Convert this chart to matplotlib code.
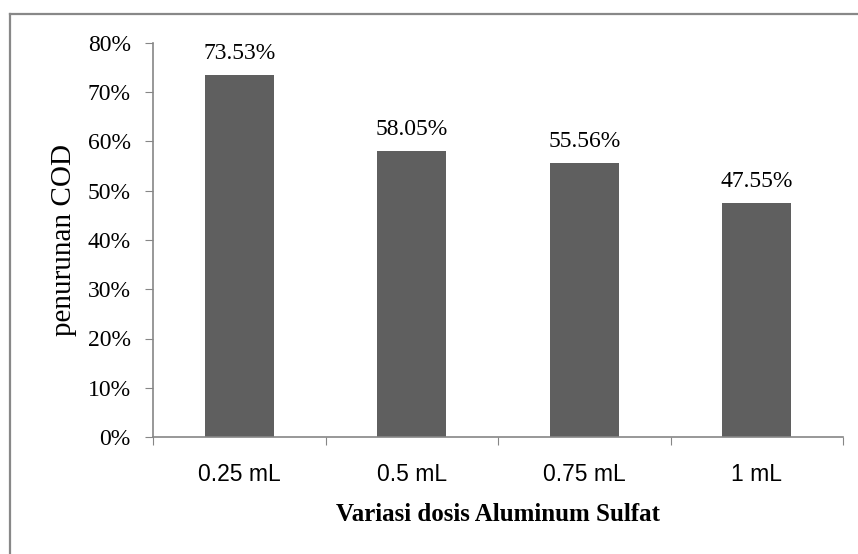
import matplotlib.pyplot as plt
from matplotlib.lines import Line2D
from matplotlib.ticker import PercentFormatter, FixedLocator, NullFormatter

doses = ['0.25 mL', '0.5 mL', '0.75 mL', '1 mL']
cod_removal = [73.53, 58.05, 55.56, 47.55]

fig = plt.figure(figsize=(8.58, 5.54), dpi=100)
ax = fig.add_axes([153 / 858, 1 - 437 / 554, 690 / 858, 394 / 554])

x = range(len(doses))
ax.bar(x, cod_removal, width=0.4, color='#5f5f5f', zorder=2)

for i, v in enumerate(cod_removal):
    ax.annotate('%.2f%%' % v, (i, v), xytext=(0, 8), textcoords='offset points',
                ha='center', va='bottom', family='Liberation Serif', fontsize=17)

ax.set_xlim(-0.5, len(doses) - 0.5)
ax.set_ylim(0, 80)
ax.set_yticks(range(0, 81, 10))
ax.yaxis.set_major_formatter(PercentFormatter(decimals=0))

# category ticks sit between bars, labels at bar centres
ax.xaxis.set_major_locator(FixedLocator([i - 0.5 for i in range(len(doses) + 1)]))
ax.xaxis.set_major_formatter(NullFormatter())
ax.set_xticks(list(x), minor=True)
ax.set_xticklabels(doses, minor=True, family='Liberation Sans', fontsize=16.5)
ax.tick_params(axis='x', which='minor', length=0, pad=19)
ax.tick_params(axis='x', which='major', length=6, color='#868686', direction='out')
ax.tick_params(axis='y', length=6, color='#868686', direction='out', pad=10)
for lab in ax.get_yticklabels():
    lab.set_family('Liberation Serif')
    lab.set_fontsize(17)

for side in ['top', 'right']:
    ax.spines[side].set_visible(False)
for side in ['left', 'bottom']:
    ax.spines[side].set_color('#868686')
    ax.spines[side].set_linewidth(1.2)

ax.set_xlabel('Variasi dosis Aluminum Sulfat', family='Liberation Serif',
              fontweight='bold', fontsize=18, labelpad=12)
ax.set_ylabel('penurunan COD', family='Liberation Serif', fontsize=21, labelpad=8)

# chart frame: only top and left edges fall inside the image
frame = dict(transform=fig.transFigure, color='#888888', linewidth=1.6)
fig.lines.append(Line2D([9.5 / 858, 1], [1 - 13.5 / 554] * 2, **frame))
fig.lines.append(Line2D([9.5 / 858] * 2, [0, 1 - 13.5 / 554], **frame))

fig.savefig('out.png', dpi=100)
